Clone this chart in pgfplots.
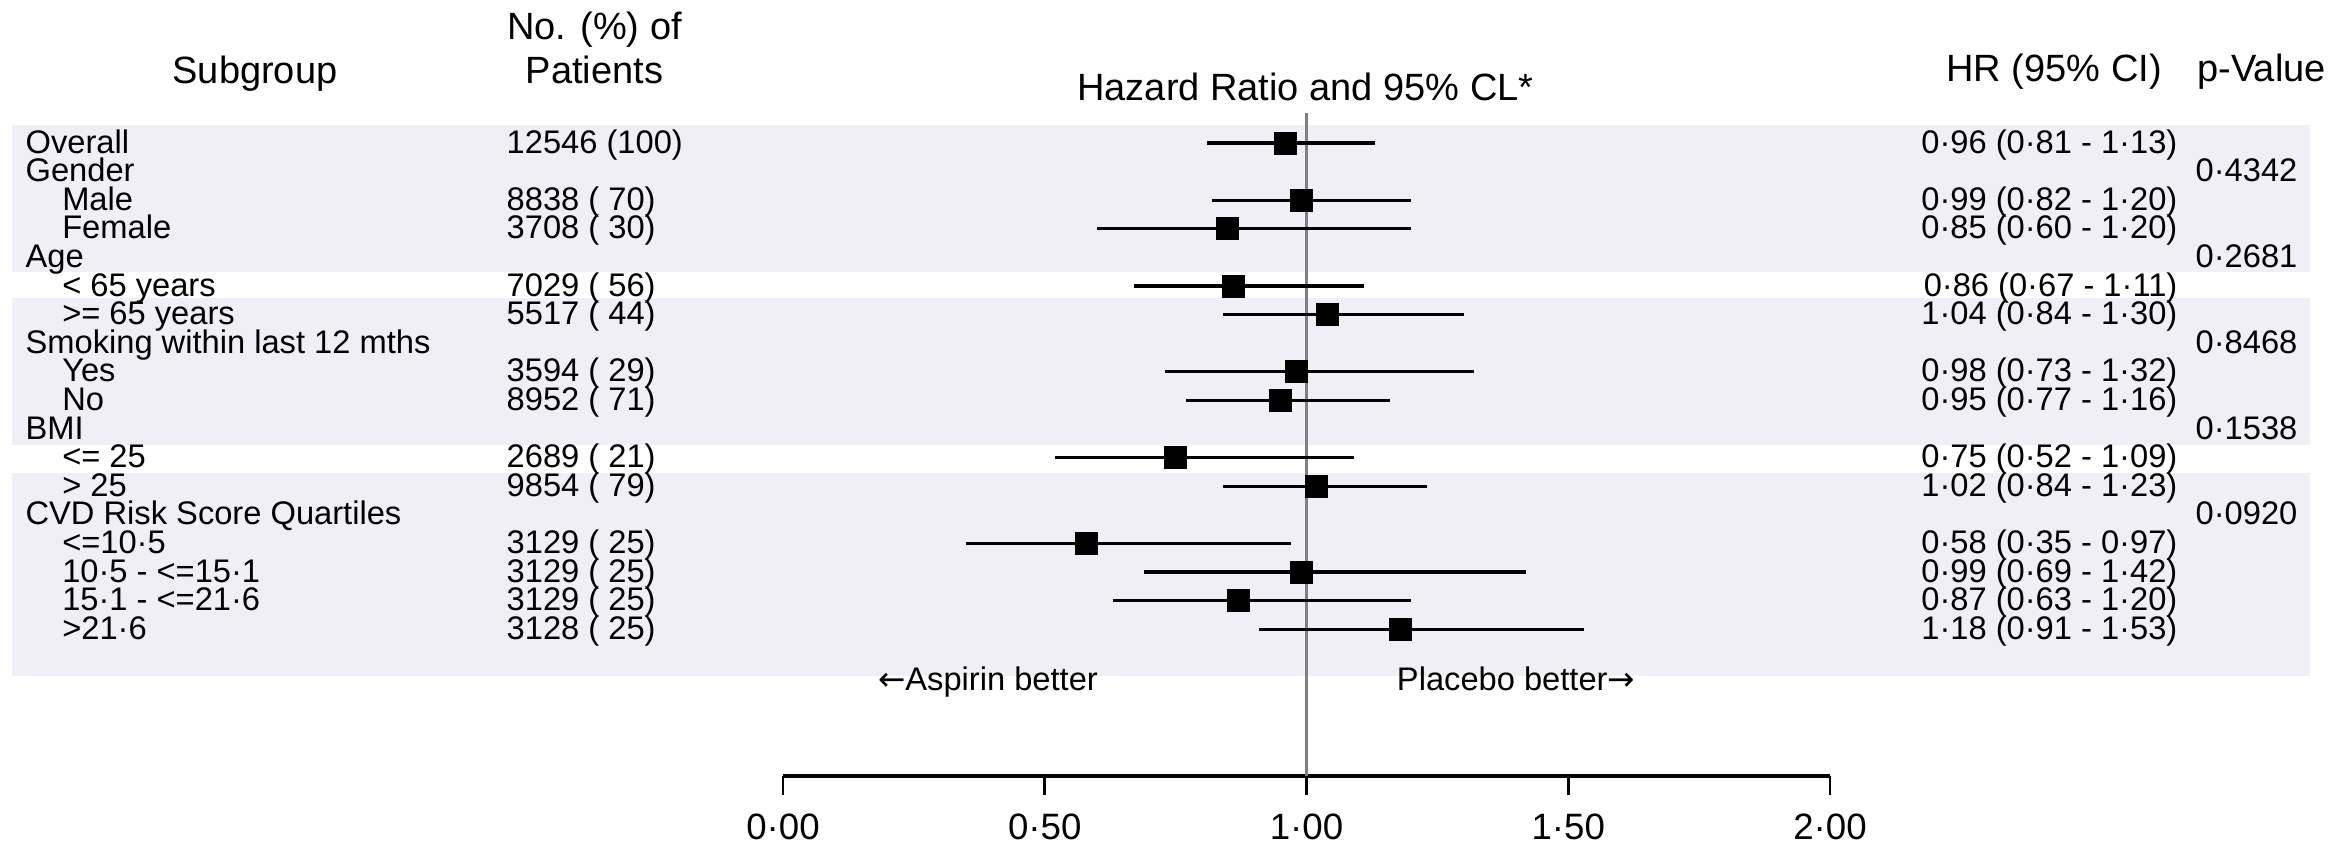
\documentclass[border=0pt]{standalone}
\usepackage{fontspec}
\setmainfont{Liberation Sans}
\newfontfamily\djv{DejaVu Sans}
\usepackage{pgfplots}
\usepackage{pgfplotstable}
\pgfplotsset{compat=1.18}
\definecolor{band}{RGB}{239,239,245}
\definecolor{refgray}{RGB}{128,128,128}

% row position (negative row index), hazard ratio, 95% CI
\pgfplotstableread{
y    hr    lo    hi
0    0.96  0.81  1.13
-2   0.99  0.82  1.20
-3   0.85  0.60  1.20
-5   0.86  0.67  1.11
-6   1.04  0.84  1.30
-8   0.98  0.73  1.32
-9   0.95  0.77  1.16
-11  0.75  0.52  1.09
-12  1.02  0.84  1.23
-14  0.58  0.35  0.97
-15  0.99  0.69  1.42
-16  0.87  0.63  1.20
-17  1.18  0.91  1.53
}\hrdata

\newcommand\rowfont{\fontsize{9.8}{11}\selectfont}
\newcommand\headfont{\fontsize{11.4}{13}\selectfont}
\newcommand\tickfont{\fontsize{11}{13}\selectfont}

\begin{document}
\begin{tikzpicture}[
  lab/.style={inner sep=0pt, font=\rowfont, anchor=base west},
  num/.style={inner sep=0pt, font=\rowfont, anchor=base east},
  head/.style={inner sep=0pt, font=\headfont, anchor=base},
]
\begin{axis}[
  width=314.1pt, height=198.9pt, scale only axis,
  xmin=0, xmax=2, ymin=-22.133, ymax=1.049,
  clip=false,
  axis x line*=bottom, axis y line=none,
  x axis line style={line width=1.2pt, black},
  xtick={0,0.5,1,1.5,2},
  xticklabels={0·00,0·50,1·00,1·50,2·00},
  tick align=outside,
  major tick length=5.7pt,
  x tick style={line width=0.8pt, black},
  xticklabel style={font=\tickfont, inner sep=0pt, yshift=-5.6pt},
  ytick=\empty,
]
% shaded blocks
\fill[band] (axis cs:-1.4728,0.629) rectangle (axis cs:2.9169,-4.51);
\fill[band] (axis cs:-1.4728,-5.42) rectangle (axis cs:2.9169,-10.55);
\fill[band] (axis cs:-1.4728,-11.54) rectangle (axis cs:2.9169,-18.64);

% line of no effect
\draw[refgray, line width=0.8pt] (axis cs:1,1.049) -- (axis cs:1,-22.133);

\addplot[black, only marks, mark=square*, mark size=3.3pt,
  mark options={fill=black, draw=black, line width=0pt},
  error bars/.cd, x dir=both, x explicit, error mark=none,
  error bar style={line width=0.95pt, black}]
  table[x=hr, y=y,
    x error plus expr=\thisrow{hi}-\thisrow{hr},
    x error minus expr=\thisrow{hr}-\thisrow{lo}] {\hrdata};

% headers
\node[head] at (axis cs:-1.0086,2.098) {Subgroup};
\node[head] at (axis cs:-0.36,3.636) {No. (\%) of};
\node[head] at (axis cs:-0.36,2.098) {Patients};
\node[head] at (axis cs:0.998,1.503) {Hazard Ratio and 95\% CL*};
\node[head] at (axis cs:2.428,2.133) {HR (95\% CI)};
\node[head, anchor=base west] at (axis cs:2.701,2.133) {p-Value};

% subgroup labels
\node[lab] at (axis cs:-1.448,-0.35) {Overall};
\node[lab] at (axis cs:-1.448,-1.35) {Gender};
\node[lab] at (axis cs:-1.378,-2.35) {Male};
\node[lab] at (axis cs:-1.378,-3.35) {Female};
\node[lab] at (axis cs:-1.448,-4.35) {Age};
\node[lab] at (axis cs:-1.378,-5.35) {< 65 years};
\node[lab] at (axis cs:-1.378,-6.35) {>= 65 years};
\node[lab] at (axis cs:-1.448,-7.35) {Smoking within last 12 mths};
\node[lab] at (axis cs:-1.378,-8.35) {Yes};
\node[lab] at (axis cs:-1.378,-9.35) {No};
\node[lab] at (axis cs:-1.448,-10.35) {BMI};
\node[lab] at (axis cs:-1.378,-11.35) {<= 25};
\node[lab] at (axis cs:-1.378,-12.35) {> 25};
\node[lab] at (axis cs:-1.448,-13.35) {CVD Risk Score Quartiles};
\node[lab] at (axis cs:-1.378,-14.35) {<=10·5};
\node[lab] at (axis cs:-1.378,-15.35) {10·5 - <=15·1};
\node[lab] at (axis cs:-1.378,-16.35) {15·1 - <=21·6};
\node[lab] at (axis cs:-1.378,-17.35) {>21·6};

% patient counts
\node[lab] at (axis cs:-0.529,-0.35) {12546 (100)};
\node[lab] at (axis cs:-0.529,-2.35) {8838 ( 70)};
\node[lab] at (axis cs:-0.529,-3.35) {3708 ( 30)};
\node[lab] at (axis cs:-0.529,-5.35) {7029 ( 56)};
\node[lab] at (axis cs:-0.529,-6.35) {5517 ( 44)};
\node[lab] at (axis cs:-0.529,-8.35) {3594 ( 29)};
\node[lab] at (axis cs:-0.529,-9.35) {8952 ( 71)};
\node[lab] at (axis cs:-0.529,-11.35) {2689 ( 21)};
\node[lab] at (axis cs:-0.529,-12.35) {9854 ( 79)};
\node[lab] at (axis cs:-0.529,-14.35) {3129 ( 25)};
\node[lab] at (axis cs:-0.529,-15.35) {3129 ( 25)};
\node[lab] at (axis cs:-0.529,-16.35) {3129 ( 25)};
\node[lab] at (axis cs:-0.529,-17.35) {3128 ( 25)};

% HR text
\node[num] at (axis cs:2.6648,-0.35) {0·96 (0·81 - 1·13)};
\node[num] at (axis cs:2.6648,-2.35) {0·99 (0·82 - 1·20)};
\node[num] at (axis cs:2.6648,-3.35) {0·85 (0·60 - 1·20)};
\node[num] at (axis cs:2.6648,-5.35) {0·86 (0·67 - 1·11)};
\node[num] at (axis cs:2.6648,-6.35) {1·04 (0·84 - 1·30)};
\node[num] at (axis cs:2.6648,-8.35) {0·98 (0·73 - 1·32)};
\node[num] at (axis cs:2.6648,-9.35) {0·95 (0·77 - 1·16)};
\node[num] at (axis cs:2.6648,-11.35) {0·75 (0·52 - 1·09)};
\node[num] at (axis cs:2.6648,-12.35) {1·02 (0·84 - 1·23)};
\node[num] at (axis cs:2.6648,-14.35) {0·58 (0·35 - 0·97)};
\node[num] at (axis cs:2.6648,-15.35) {0·99 (0·69 - 1·42)};
\node[num] at (axis cs:2.6648,-16.35) {0·87 (0·63 - 1·20)};
\node[num] at (axis cs:2.6648,-17.35) {1·18 (0·91 - 1·53)};

% interaction p-values
\node[lab] at (axis cs:2.6972,-1.35) {0·4342};
\node[lab] at (axis cs:2.6972,-4.35) {0·2681};
\node[lab] at (axis cs:2.6972,-7.35) {0·8468};
\node[lab] at (axis cs:2.6972,-10.35) {0·1538};
\node[lab] at (axis cs:2.6972,-13.35) {0·0920};

% direction labels
\node[inner sep=0pt, font=\rowfont, anchor=base] at (axis cs:0.3916,-19.15) {{\djv←}Aspirin better};
\node[inner sep=0pt, font=\rowfont, anchor=base] at (axis cs:1.4002,-19.15) {Placebo better{\djv→}};

\coordinate (TL) at (axis cs:-1.4957,5.0);
\coordinate (BR) at (axis cs:2.9666,-24.51);
\end{axis}
\pgfresetboundingbox
\path[use as bounding box] (TL) rectangle (BR);
\end{tikzpicture}
\end{document}
